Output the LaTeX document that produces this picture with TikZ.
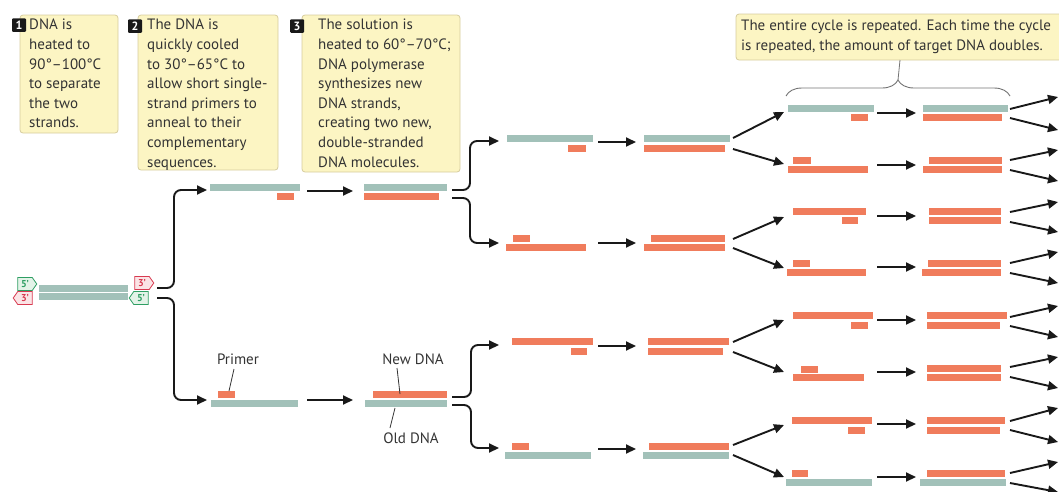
\documentclass[tikz,border=0pt]{standalone}
\usepackage{fontspec}
\setmainfont{PT Sans}
\usetikzlibrary{arrows.meta,shapes.symbols,decorations.pathreplacing}
\definecolor{teal0}{HTML}{A2C1B9}
\definecolor{salmon}{HTML}{F07C5C}
\definecolor{boxfill}{HTML}{FCF5C3}
\definecolor{boxdraw}{HTML}{D6CC9E}
\definecolor{txt}{HTML}{333333}
\definecolor{tgreen}{HTML}{2E9E63}
\definecolor{tgreenf}{HTML}{E3F3E8}
\definecolor{tred}{HTML}{D83A50}
\definecolor{tredf}{HTML}{FBE4E6}
\newcommand\dnabar[5]{\node[bar,fill=#5,minimum width={#3pt-#2pt},anchor=north west] (#1) at (#2,#4) {};}
\begin{document}
\begin{tikzpicture}[x=1pt,y=-1pt,
 bar/.style={rectangle,inner sep=0,outer sep=0,minimum height=7pt,draw=none},
 arr/.style={line width=1.9pt,-{Triangle[length=10pt,width=9pt]},black!90},
 note/.style={draw=boxdraw,fill=boxfill,rounded corners=3pt,line width=0.8pt},
 badge/.style={fill=black!90,text=white,font=\bfseries\fontsize{12}{12}\selectfont,inner sep=0,minimum width=14pt,minimum height=13.5pt,rounded corners=1pt},
 btext/.style={anchor=north west,align=left,inner sep=0,text=txt,font=\fontsize{15}{19.6}\selectfont},
 tag/.style={signal,draw,line width=0.8pt,inner sep=1pt,font=\fontsize{10}{10}\selectfont\bfseries,minimum height=13pt,minimum width=19pt,signal pointer angle=110},
 lead/.style={draw=txt,line width=0.8pt},
 lbl/.style={text=txt,font=\fontsize{15}{17}\selectfont,inner sep=0}]
\path[use as bounding box] (0,0) rectangle (1059,491);
\clip (0,0) rectangle (1059,491);

% ---- step boxes ----
\draw[note] (20,15) rectangle (118,133);
\node[badge] (b1) at (19,25) {1};
\node[btext] (t1) at (29,19) {DNA is\\heated to\\90°–100°C\\to separate\\the two\\strands.};
\draw[note] (138,15) rectangle (278,170);
\node[badge] (b2) at (135,26) {2};
\node[btext] (t2) at (147,19) {The DNA is\\quickly cooled\\to 30°–65°C to\\allow short single-\\strand primers to\\anneal to their\\complementary\\sequences.};
\draw[note] (302,15) rectangle (460,172);
\node[badge] (b3) at (297,26) {3};
\node[btext] (t3) at (318,19) {The solution is\\heated to 60°–70°C;\\DNA polymerase\\synthesizes new\\DNA strands,\\creating two new,\\double-stranded\\DNA molecules.};

% ---- callout ----
\draw[note] (736,14) rectangle (1075,60);
\node[btext,font=\fontsize{15}{20}\selectfont] (t4) at (741,20) {The entire cycle is repeated. Each time the cycle\\is repeated, the amount of target DNA doubles.};
\draw[draw=black!55,line width=0.9pt,decorate,decoration={brace,amplitude=16pt}] (786,96) -- (1010,96);
\draw[draw=black!55,line width=0.8pt] (898,80) -- (900,60);

% ---- initial DNA ----
\dnabar{d0a}{39}{128}{285}{teal0}
\dnabar{d0b}{39}{128}{293}{teal0}
\node[tag,signal to=east,draw=tgreen,fill=tgreenf,text=tgreen] (g1) at (25,284) {5'};
\node[tag,signal to=west,draw=tred,fill=tredf,text=tred] (g2) at (25,298) {3'};
\node[tag,signal to=east,draw=tred,fill=tredf,text=tred] (g3) at (142,283) {3'};
\node[tag,signal to=west,draw=tgreen,fill=tgreenf,text=tgreen] (g4) at (141,298) {5'};

% ---- cycle 1 ----
\dnabar{c1ta}{210}{300}{184}{teal0}
\dnabar{c1tp}{277}{294}{193}{salmon}
\dnabar{c1ra}{364}{447}{184}{teal0}
\dnabar{c1rb}{364}{439}{193}{salmon}
\dnabar{c1bp}{218}{235}{391}{salmon}
\dnabar{c1ba}{211}{298}{400}{teal0}
\dnabar{c1sa}{373}{447}{391}{salmon}
\dnabar{c1sb}{365}{447}{400}{teal0}

\coordinate (s0t) at (157,288);
\coordinate (s0b) at (157,298);
\coordinate (c1tin) at (207,190);
\coordinate (c1bin) at (207,400);
\draw[arr,rounded corners=7pt] (s0t) -- (174,288) -- (174,190) -- (c1tin);
\draw[arr,rounded corners=7pt] (s0b) -- (174,298) -- (174,400) -- (c1bin);
\coordinate (h1a) at (307,191); \coordinate (h1b) at (353,191);
\coordinate (h2a) at (307,400); \coordinate (h2b) at (353,400);
\draw[arr] (h1a) -- (h1b);
\draw[arr] (h2a) -- (h2b);

% labels
\node[lbl] (lp) at (238,359) {Primer};
\node[lbl] (ln) at (413,359) {New DNA};
\node[lbl] (lo) at (411,438) {Old DNA};
\coordinate (lp1) at (234,369); \coordinate (lp2) at (229,391);
\coordinate (ln1) at (397,368); \coordinate (ln2) at (400,394);
\coordinate (lo1) at (395,408); \coordinate (lo2) at (390,428);
\draw[lead] (lp1) -- (lp2);
\draw[lead] (ln1) -- (ln2);
\draw[lead] (lo1) -- (lo2);

% branches to cycle 2
\coordinate (r1t) at (452,190); \coordinate (r1b) at (452,198);
\coordinate (r2t) at (452,397); \coordinate (r2b) at (452,405);
\coordinate (eA) at (499,141); \coordinate (eB) at (499,243);
\coordinate (eC) at (499,345); \coordinate (eD) at (499,448);
\draw[arr,rounded corners=7pt] (r1t) -- (470,190) -- (470,141) -- (eA);
\draw[arr,rounded corners=7pt] (r1b) -- (470,198) -- (470,243) -- (eB);
\draw[arr,rounded corners=7pt] (r2t) -- (471,397) -- (471,345) -- (eC);
\draw[arr,rounded corners=7pt] (r2b) -- (471,405) -- (471,448) -- (eD);

% ---- cycle 2 ----
\dnabar{aA1}{507}{593}{135}{teal0}
\dnabar{aA2}{568}{586}{145}{salmon}
\dnabar{bA1}{644}{730}{135}{teal0}
\dnabar{bA2}{644}{725}{145}{salmon}
\dnabar{aB1}{513}{530}{235}{salmon}
\dnabar{aB2}{506}{586}{244}{salmon}
\dnabar{bB1}{651}{725}{235}{salmon}
\dnabar{bB2}{644}{725}{244}{salmon}
\dnabar{aC1}{512}{593}{338}{salmon}
\dnabar{aC2}{571}{587}{348}{salmon}
\dnabar{bC1}{648}{729}{338}{salmon}
\dnabar{bC2}{648}{723}{348}{salmon}
\dnabar{aD1}{512}{529}{443}{salmon}
\dnabar{aD2}{505}{591}{452}{teal0}
\dnabar{bD1}{649}{729}{443}{salmon}
\dnabar{bD2}{643}{729}{452}{teal0}
\foreach \n/\y in {A/142,B/243,C/346,D/449}{
  \coordinate (m\n a) at (598,\y); \coordinate (m\n b) at (636,\y);
  \draw[arr] (m\n a) -- (m\n b);
}

% fans cycle 2 -> 3
\foreach \n/\ya/\yb/\ta/\tb in {A/138/149/112/164,B/239/248/217/268,C/342/352/320/372,D/445/455/425/477}{
  \coordinate (f\n u) at (733,\ya); \coordinate (f\n d) at (733,\yb);
  \coordinate (g\n u) at (784,\ta); \coordinate (g\n d) at (784,\tb);
  \draw[arr] (f\n u) -- (g\n u);
  \draw[arr] (f\n d) -- (g\n d);
}

% ---- cycle 3 ----
\dnabar{p1a}{788}{874}{105}{teal0}
\dnabar{p1b}{851}{868}{114}{salmon}
\dnabar{q1a}{923}{1008}{105}{teal0}
\dnabar{q1b}{923}{1002}{114}{salmon}
\dnabar{p2a}{793}{811}{157}{salmon}
\dnabar{p2b}{788}{868}{166}{salmon}
\dnabar{q2a}{929}{1002}{157}{salmon}
\dnabar{q2b}{923}{1002}{166}{salmon}
\dnabar{p3a}{793}{866}{208}{salmon}
\dnabar{p3b}{842}{858}{217}{salmon}
\dnabar{q3a}{929}{1001}{208}{salmon}
\dnabar{q3b}{929}{1001}{217}{salmon}
\dnabar{p4a}{793}{810}{260}{salmon}
\dnabar{p4b}{787}{866}{269}{salmon}
\dnabar{q4a}{928}{1001}{260}{salmon}
\dnabar{q4b}{922}{1001}{269}{salmon}
\dnabar{p5a}{793}{873}{312}{salmon}
\dnabar{p5b}{851}{868}{322}{salmon}
\dnabar{q5a}{927}{1007}{312}{salmon}
\dnabar{q5b}{927}{1000}{322}{salmon}
\dnabar{p6a}{801}{818}{366}{salmon}
\dnabar{p6b}{793}{864}{374}{salmon}
\dnabar{q6a}{927}{1001}{365}{salmon}
\dnabar{q6b}{927}{1001}{374}{salmon}
\dnabar{p7a}{792}{872}{417}{salmon}
\dnabar{p7b}{848}{865}{427}{salmon}
\dnabar{q7a}{927}{1005}{417}{salmon}
\dnabar{q7b}{927}{1000}{427}{salmon}
\dnabar{p8a}{792}{808}{470}{salmon}
\dnabar{p8b}{786}{872}{479}{teal0}
\dnabar{q8a}{927}{1005}{470}{salmon}
\dnabar{q8b}{920}{1006}{479}{teal0}
\foreach \n/\y in {1/113,2/165,3/216,4/267,5/320,6/372,7/424,8/477}{
  \coordinate (k\n a) at (877,\y); \coordinate (k\n b) at (916,\y);
  \draw[arr] (k\n a) -- (k\n b);
}
% fans out
\foreach \n/\sa/\sb/\ea/\eb in {1/109/118/97/130,2/160/170/150/181,3/212/222/202/232,4/263/273/252/283,5/317/326/306/337,6/367/377/357/388,7/421/430/408/442,8/473/483/462/492}{
  \coordinate (o\n u) at (1010,\sa); \coordinate (o\n d) at (1010,\sb);
  \coordinate (e\n u) at (1058,\ea); \coordinate (e\n d) at (1058,\eb);
  \draw[arr] (o\n u) -- (e\n u);
  \draw[arr] (o\n d) -- (e\n d);
}
\end{tikzpicture}
\end{document}
